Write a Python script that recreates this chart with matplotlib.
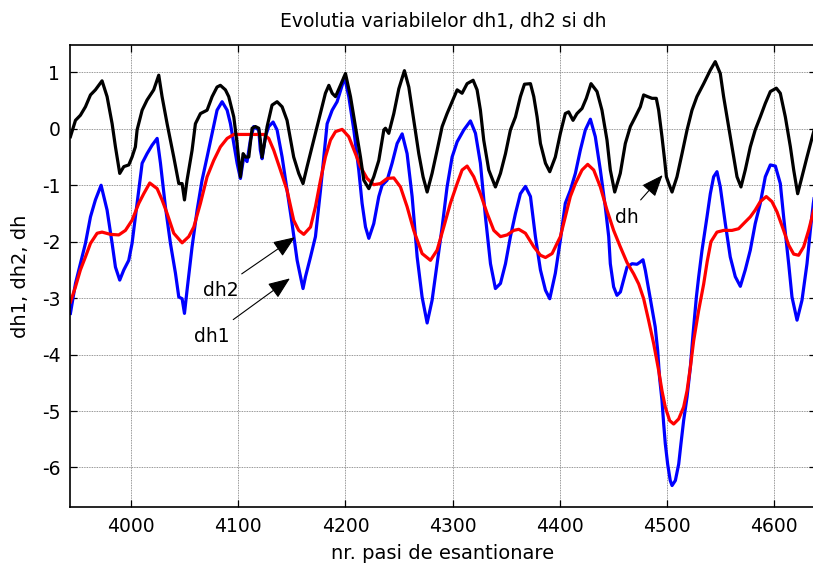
import matplotlib
matplotlib.use("Agg")
import matplotlib.pyplot as plt

plt.rcParams['font.family'] = ['DejaVu Sans']

# dh1 (blue trace)
dh1_x = [3943.4, 3948.1, 3952.7, 3957.4, 3962.1, 3966.7, 3972.0, 3977.6, 3982.3, 3985.4,
         3989.4, 3993.2, 3997.8, 4000.9, 4005.6, 4010.3, 4014.9, 4019.6, 4024.3, 4027.4,
         4032.0, 4036.7, 4041.4, 4044.5, 4047.6, 4049.8, 4052.2, 4056.9, 4061.6, 4066.2,
         4070.9, 4075.6, 4080.2, 4084.9, 4089.6, 4092.7, 4095.8, 4098.9, 4102.0, 4105.1,
         4108.2, 4111.3, 4114.4, 4119.1, 4120.6, 4122.2, 4125.3, 4128.4, 4132.5, 4136.2,
         4140.9, 4145.5, 4150.2, 4154.9, 4160.4, 4162.7, 4167.4, 4172.0, 4176.7, 4179.8,
         4182.9, 4187.6, 4192.2, 4196.9, 4199.1, 4203.1, 4207.8, 4212.4, 4215.5, 4218.7,
         4221.8, 4226.4, 4231.1, 4234.2, 4238.9, 4243.5, 4248.2, 4252.9, 4257.5, 4262.2,
         4266.9, 4271.5, 4276.2, 4280.8, 4285.5, 4290.2, 4294.8, 4299.5, 4304.2, 4310.4,
         4316.6, 4321.3, 4325.9, 4330.6, 4335.3, 4339.9, 4344.6, 4349.3, 4353.9, 4358.6,
         4363.2, 4367.9, 4372.6, 4377.2, 4381.9, 4386.6, 4390.6, 4395.8, 4400.5, 4405.1,
         4409.8, 4414.5, 4419.1, 4423.8, 4428.5, 4433.1, 4437.8, 4442.4, 4445.6, 4447.1,
         4450.2, 4453.3, 4456.5, 4462.7, 4467.4, 4472.0, 4475.0, 4477.6, 4479.8, 4483.0,
         4486.0, 4489.0, 4491.3, 4493.0, 4495.3, 4496.9, 4498.4, 4500.6, 4503.0, 4504.7,
         4507.8, 4510.9, 4513.0, 4515.5, 4518.7, 4521.8, 4524.3, 4527.4, 4529.5, 4532.6,
         4537.3, 4540.4, 4543.5, 4546.6, 4549.7, 4554.4, 4559.0, 4563.7, 4568.4, 4573.0,
         4577.7, 4582.3, 4587.0, 4591.7, 4596.4, 4601.1, 4605.7, 4608.8, 4613.5, 4616.6,
         4621.3, 4625.9, 4630.6, 4633.7, 4636.5, 4639.0]
dh1_y = [-3.27, -2.74, -2.39, -2.03, -1.56, -1.26, -1.00, -1.44, -2.03, -2.45,
         -2.68, -2.50, -2.33, -2.03, -1.32, -0.61, -0.44, -0.29, -0.17, -0.61,
         -1.38, -2.03, -2.56, -2.98, -3.01, -3.27, -2.86, -2.09, -1.44, -0.91,
         -0.50, -0.08, 0.33, 0.48, 0.33, 0.09, -0.26, -0.61, -0.88, -0.50,
         -0.58, -0.20, 0.04, -0.02, -0.38, -0.53, -0.14, 0.04, 0.12, -0.02,
         -0.50, -1.09, -1.68, -2.33, -2.83, -2.62, -2.27, -1.91, -1.09, -0.50,
         0.09, 0.33, 0.48, 0.77, 0.92, 0.57, -0.02, -0.73, -1.32, -1.74,
         -1.94, -1.68, -1.20, -1.00, -0.91, -0.61, -0.26, -0.09, -0.44, -1.20,
         -2.27, -2.98, -3.44, -3.04, -2.39, -1.74, -1.03, -0.50, -0.23, -0.02,
         0.14, -0.08, -0.61, -1.56, -2.39, -2.83, -2.74, -2.39, -1.91, -1.50,
         -1.15, -1.02, -1.20, -1.91, -2.50, -2.86, -3.01, -2.56, -1.97, -1.32,
         -1.09, -0.79, -0.38, -0.02, 0.17, -0.14, -0.73, -1.38, -1.91, -2.39,
         -2.80, -2.95, -2.89, -2.45, -2.39, -2.40, -2.36, -2.32, -2.51, -2.86,
         -3.19, -3.51, -3.93, -4.40, -4.81, -5.23, -5.58, -5.94, -6.23, -6.32,
         -6.23, -5.94, -5.58, -5.17, -4.75, -4.22, -3.63, -2.98, -2.63, -2.16,
         -1.56, -1.15, -0.85, -0.76, -1.03, -1.68, -2.27, -2.62, -2.79, -2.50,
         -2.15, -1.68, -1.32, -0.85, -0.64, -0.66, -0.97, -1.56, -2.39, -2.98,
         -3.39, -3.04, -2.39, -1.80, -1.32, -1.00]

# dh2 (red trace)
dh2_x = [3943.4, 3948.1, 3952.7, 3957.4, 3962.1, 3968.3, 3972.9, 3980.7, 3988.5, 3994.7,
         4000.9, 4007.2, 4011.8, 4017.4, 4024.3, 4028.9, 4033.6, 4039.8, 4047.6, 4053.8,
         4058.5, 4064.7, 4070.9, 4077.1, 4083.3, 4089.6, 4095.8, 4108.2, 4123.8, 4128.4,
         4133.1, 4139.3, 4145.5, 4151.7, 4156.4, 4161.1, 4167.4, 4172.0, 4176.7, 4181.3,
         4186.0, 4190.7, 4196.9, 4203.1, 4209.3, 4214.0, 4220.2, 4226.4, 4232.6, 4238.9,
         4245.1, 4251.3, 4257.5, 4263.7, 4271.5, 4279.3, 4285.5, 4291.7, 4297.9, 4304.2,
         4308.8, 4313.5, 4319.7, 4325.9, 4332.2, 4338.4, 4344.6, 4350.8, 4357.0, 4361.7,
         4367.9, 4375.7, 4381.9, 4386.6, 4392.8, 4400.5, 4405.1, 4409.8, 4414.5, 4420.7,
         4426.0, 4431.6, 4437.8, 4444.0, 4450.2, 4456.4, 4462.7, 4468.9, 4473.6, 4478.2,
         4482.9, 4487.6, 4492.2, 4495.3, 4498.4, 4502.5, 4506.2, 4510.9, 4515.5, 4518.7,
         4521.8, 4524.9, 4529.5, 4534.2, 4537.5, 4541.0, 4546.6, 4552.8, 4560.6, 4566.8,
         4573.0, 4577.7, 4582.3, 4587.0, 4592.6, 4597.9, 4602.6, 4608.8, 4613.5, 4618.2,
         4622.8, 4627.5, 4632.1, 4636.5, 4639.0]
dh2_y = [-3.07, -2.80, -2.50, -2.27, -2.03, -1.85, -1.83, -1.87, -1.88, -1.80,
         -1.62, -1.32, -1.15, -0.96, -1.06, -1.26, -1.50, -1.85, -2.02, -1.91,
         -1.74, -1.32, -0.85, -0.56, -0.32, -0.17, -0.10, -0.10, -0.10, -0.17,
         -0.38, -0.73, -1.09, -1.62, -1.80, -1.87, -1.74, -1.38, -0.91, -0.50,
         -0.20, -0.05, -0.01, -0.14, -0.44, -0.67, -0.88, -0.99, -0.97, -0.88,
         -0.87, -1.03, -1.38, -1.80, -2.21, -2.33, -2.15, -1.74, -1.32, -0.97,
         -0.73, -0.66, -0.85, -1.15, -1.50, -1.80, -1.91, -1.88, -1.80, -1.78,
         -1.85, -2.09, -2.24, -2.28, -2.21, -1.91, -1.56, -1.20, -0.97, -0.73,
         -0.63, -0.73, -1.03, -1.44, -1.80, -2.09, -2.37, -2.57, -2.75, -3.01,
         -3.40, -3.81, -4.28, -4.64, -4.93, -5.17, -5.23, -5.14, -4.93, -4.64,
         -4.22, -3.75, -3.22, -2.75, -2.35, -2.00, -1.83, -1.80, -1.80, -1.77,
         -1.65, -1.56, -1.44, -1.29, -1.20, -1.29, -1.47, -1.80, -2.06, -2.22,
         -2.24, -2.09, -1.80, -1.47, -1.30]

# dh (black trace)
dh_x = [3943.4, 3948.1, 3952.7, 3957.4, 3962.1, 3966.7, 3972.9, 3977.6, 3982.3, 3985.4,
        3989.4, 3993.2, 3997.8, 4000.9, 4004.0, 4005.6, 4010.3, 4014.9, 4021.1, 4025.8,
        4028.9, 4033.6, 4039.8, 4044.5, 4047.6, 4049.8, 4052.2, 4056.9, 4060.0, 4064.7,
        4070.9, 4075.6, 4080.2, 4083.3, 4088.0, 4091.1, 4095.8, 4098.9, 4102.0, 4104.5,
        4106.7, 4109.8, 4112.9, 4116.0, 4119.1, 4120.6, 4122.2, 4124.4, 4126.9, 4131.5,
        4136.2, 4140.9, 4145.5, 4151.7, 4156.4, 4160.4, 4164.2, 4170.4, 4172.0, 4176.7,
        4181.3, 4184.5, 4187.6, 4190.7, 4195.3, 4200.0, 4204.7, 4209.3, 4214.0, 4217.1,
        4221.8, 4226.4, 4231.1, 4235.8, 4237.3, 4240.4, 4245.1, 4249.8, 4255.0, 4259.1,
        4263.7, 4268.4, 4272.4, 4276.2, 4280.8, 4285.5, 4290.2, 4294.8, 4299.5, 4304.2,
        4308.8, 4313.5, 4319.1, 4322.8, 4325.9, 4329.0, 4333.7, 4339.9, 4344.6, 4349.3,
        4353.9, 4358.6, 4363.2, 4367.0, 4372.6, 4375.7, 4378.8, 4381.9, 4386.6, 4390.6,
        4395.8, 4400.5, 4405.1, 4408.2, 4412.3, 4416.0, 4420.7, 4424.7, 4429.1, 4434.7,
        4439.3, 4444.0, 4447.1, 4451.2, 4456.4, 4461.1, 4465.8, 4470.4, 4475.1, 4478.2,
        4481.9, 4486.0, 4490.0, 4492.2, 4495.3, 4497.8, 4499.4, 4501.6, 4504.7, 4509.3,
        4514.0, 4518.7, 4523.3, 4527.9, 4534.2, 4540.4, 4545.0, 4549.7, 4552.8, 4557.5,
        4562.2, 4565.3, 4569.0, 4573.0, 4577.7, 4582.3, 4587.0, 4591.7, 4596.4, 4602.0,
        4605.7, 4610.4, 4615.1, 4618.2, 4621.9, 4625.9, 4630.6, 4636.5, 4639.0]
dh_y = [-0.14, 0.15, 0.24, 0.39, 0.60, 0.69, 0.85, 0.57, 0.09, -0.32,
        -0.79, -0.67, -0.64, -0.50, -0.32, -0.02, 0.33, 0.51, 0.69, 0.95,
        0.57, 0.09, -0.50, -0.97, -0.97, -1.26, -0.91, -0.38, 0.09, 0.27,
        0.33, 0.57, 0.74, 0.77, 0.69, 0.57, 0.21, -0.26, -0.85, -0.44,
        -0.50, -0.50, 0.01, 0.04, 0.01, -0.20, -0.50, -0.26, 0.04, 0.42,
        0.48, 0.39, 0.15, -0.50, -0.79, -0.97, -0.67, -0.20, -0.08, 0.27,
        0.63, 0.77, 0.63, 0.57, 0.77, 0.98, 0.57, 0.04, -0.50, -0.91,
        -1.06, -0.85, -0.56, -0.02, 0.01, -0.08, 0.27, 0.71, 1.03, 0.74,
        0.15, -0.44, -0.85, -1.12, -0.79, -0.38, 0.04, 0.27, 0.48, 0.69,
        0.63, 0.80, 0.86, 0.69, 0.33, -0.20, -0.73, -1.03, -0.79, -0.44,
        -0.02, 0.21, 0.57, 0.79, 0.80, 0.57, 0.21, -0.26, -0.61, -0.76,
        -0.50, -0.08, 0.27, 0.30, 0.15, 0.27, 0.36, 0.54, 0.80, 0.66,
        0.33, -0.20, -0.73, -1.12, -0.79, -0.26, 0.04, 0.21, 0.39, 0.60,
        0.57, 0.54, 0.54, 0.33, -0.14, -0.56, -0.85, -0.97, -1.12, -0.85,
        -0.44, -0.02, 0.33, 0.57, 0.80, 1.04, 1.19, 0.98, 0.57, 0.04,
        -0.50, -0.85, -1.03, -0.73, -0.32, -0.02, 0.21, 0.45, 0.66, 0.72,
        0.63, 0.21, -0.32, -0.73, -1.15, -0.85, -0.50, -0.08, 0.12]

x_ticks = [4000, 4100, 4200, 4300, 4400, 4500, 4600]
y_ticks = [-6, -5, -4, -3, -2, -1, 0, 1]

title_text = "Evolutia variabilelor dh1, dh2 si dh"
xlabel_text = "nr. pasi de esantionare"
ylabel_text = "dh1, dh2, dh"

# labels with arrows: (text, text anchor, arrow tail, arrow tip)
notes = [
    ("dh2", (4083.9, -2.965), (4103.2, -2.57), (4152.9, -1.92)),
    ("dh1", (4075.2, -3.775), (4095.3, -3.38), (4148.2, -2.65)),
    ("dh", (4462.3, -1.666), (4475.4, -1.26), (4495.9, -0.82)),
]

W, H = 813, 564
fig = plt.figure(figsize=(W / 100, H / 100), dpi=100)
ax = fig.add_axes([70 / W, 1 - 507 / H, (816 - 70) / W, (507 - 44.7) / H])

ax.plot(dh1_x, dh1_y, color=(0, 0, 1), lw=2.3, solid_joinstyle='round')
ax.plot(dh2_x, dh2_y, color=(1, 0, 0), lw=2.3, solid_joinstyle='round')
ax.plot(dh_x, dh_y, color='black', lw=2.3, solid_joinstyle='round')

ax.set_xlim(3943, 4639)
ax.set_ylim(-6.7, 1.49)
ax.set_xticks(x_ticks)
ax.set_yticks(y_ticks)
ax.set_xticklabels([str(v) for v in x_ticks])
ax.set_yticklabels([str(v) for v in y_ticks])

ax.set_axisbelow(True)
ax.grid(True, color=(0.45, 0.45, 0.45), lw=0.6, linestyle=(0, (1, 1)))
ax.tick_params(direction='in', length=5, width=0.9, top=True, right=True,
               labelsize=13.5, pad=7)
for s in ax.spines.values():
    s.set_linewidth(1.2)

for txt, tpos, tail, tip in notes:
    ax.text(tpos[0], tpos[1], txt, fontsize=13.5, ha='center', va='baseline')
    ax.annotate('', xy=tip, xytext=tail,
                arrowprops=dict(arrowstyle='-|>,head_length=0.75,head_width=0.3',
                                color='black', lw=0.8, mutation_scale=18,
                                shrinkA=0, shrinkB=0))

fig.text(443 / W, 1 - 27.3 / H, title_text, fontsize=13.5, ha='center', va='baseline')
fig.text(443 / W, 1 - 559.3 / H, xlabel_text, fontsize=14, ha='center', va='baseline')
fig.text(20 / W, 1 - 276 / H, ylabel_text, fontsize=14, ha='center', va='center',
         rotation=90)

fig.savefig("out.png", dpi=100)
